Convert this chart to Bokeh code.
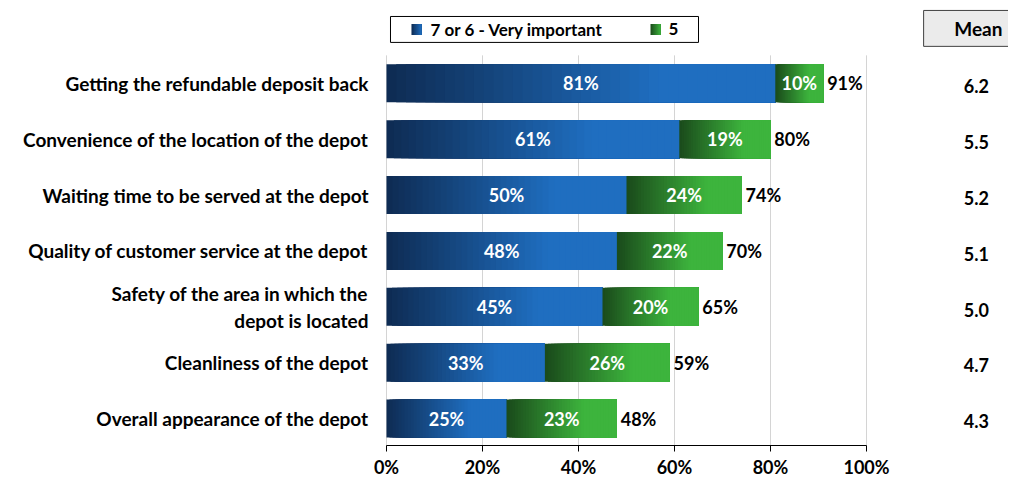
from bokeh.plotting import figure
from bokeh.models import Range1d, LinearAxis, FixedTicker, PrintfTickFormatter, ColumnDataSource
from bokeh.core.properties import value
from bokeh.embed import file_html
from bokeh.resources import INLINE

# ---- data ----
categories = [
    "Getting the refundable deposit back",
    "Convenience of the location of the depot",
    "Waiting time to be served at the depot",
    "Quality of customer service at the depot",
    "Safety of the area in which the\ndepot is located",
    "Cleanliness of the depot",
    "Overall appearance of the depot",
]
very_important = [81, 61, 50, 48, 45, 33, 25]   # 7 or 6 - Very important
score_five = [10, 19, 24, 22, 20, 26, 23]       # 5
totals = [91, 80, 74, 70, 65, 59, 48]
means = [6.2, 5.5, 5.2, 5.1, 5.0, 4.7, 4.3]
series_names = ["7 or 6 - Very important", "5"]
x_ticks = [0, 20, 40, 60, 80, 100]

FONT = value("Lato")
BLUE_L, BLUE_R = (14, 43, 82), (31, 110, 192)
GREEN_L, GREEN_R = (26, 74, 27), (61, 180, 61)


def mix(c0, c1, t):
    t = min(max(t, 0.0), 1.0)
    return "#%02x%02x%02x" % tuple(int(round(a + (b - a) * t)) for a, b in zip(c0, c1))


def gradient_slices(left, right, y, h, c0, c1, n=40, reach=0.7):
    # nested slices: each one runs to the segment end, so no seams show
    xs0, xs1, ys, hs, cols = [], [], [], [], []
    w = (right - left) / n
    for k in range(n):
        xs0.append(left + k * w)
        xs1.append(right)
        ys.append(y)
        hs.append(h)
        cols.append(mix(c0, c1, (k + 0.5) / n / reach))
    return xs0, xs1, ys, hs, cols


p = figure(width=1008, height=480,
           x_range=Range1d(-80.417, 129.583), y_range=Range1d(6.482, -1.482),
           x_axis_type=None, y_axis_type=None,
           output_backend="svg", toolbar_location=None,
           min_border_left=0, min_border_right=0, min_border_top=0, min_border_bottom=34)
p.outline_line_color = None
p.grid.visible = False
p.background_fill_color = "white"

n = len(categories)
rows = list(range(n))
BAR_H = 0.679

# grid lines
p.segment(x0=x_ticks, x1=x_ticks, y0=[-0.5] * len(x_ticks), y1=[6.6] * len(x_ticks),
          line_color="#d4d4d4", line_width=1)

# gradient bars
data = dict(left=[], right=[], y=[], h=[], color=[])
for i in rows:
    for (l, r, c0, c1) in [(0, very_important[i], BLUE_L, BLUE_R),
                           (very_important[i], very_important[i] + score_five[i], GREEN_L, GREEN_R)]:
        a, b, yy, hh, cc = gradient_slices(l, r, i, BAR_H, c0, c1)
        data["left"] += a
        data["right"] += b
        data["y"] += yy
        data["h"] += hh
        data["color"] += cc
src = ColumnDataSource(data)
p.hbar(y="y", left="left", right="right", height="h", fill_color="color",
       line_color=None, source=src)

# in-bar labels
p.text(x=[v / 2 for v in very_important], y=rows, text=[f"{v}%" for v in very_important],
       text_color="white", text_font=FONT, text_font_style="bold", text_font_size="18px",
       text_align="center", text_baseline="middle")
p.text(x=[a + b / 2 for a, b in zip(very_important, score_five)], y=rows,
       text=[f"{v}%" for v in score_five],
       text_color="white", text_font=FONT, text_font_style="bold", text_font_size="18px",
       text_align="center", text_baseline="middle")
p.text(x=[t + 0.8 for t in totals], y=rows, text=[f"{t}%" for t in totals],
       text_color="black", text_font=FONT, text_font_style="bold", text_font_size="18px",
       text_align="left", text_baseline="middle")

# category labels
p.text(x=[-3.75] * n, y=rows, text=categories, text_color="black", text_font=FONT,
       text_font_style="bold", text_font_size="19px", text_align="right",
       text_baseline="middle", text_line_height=1.15)

# mean column
p.quad(left=[111.9], right=[140], top=[-1.304], bottom=[-0.661],
       fill_color="#ebebeb", line_color="#404040", line_width=1)
p.text(x=[123.3], y=[-0.982], text=["Mean"], text_color="black", text_font=FONT,
       text_font_style="bold", text_font_size="19px", text_align="center",
       text_baseline="middle")
p.text(x=[122.9] * n, y=[r + 0.05 for r in rows], text=[f"{m:.1f}" for m in means],
       text_color="black", text_font=FONT, text_font_style="bold", text_font_size="18px",
       text_align="center", text_baseline="middle")

# legend (drawn)
p.quad(left=[0.83], right=[65], top=[-1.196], bottom=[-0.732],
       fill_color="white", line_color="black", line_width=1)
for (x0, x1, c0, c1) in [(5.2, 7.3, BLUE_L, BLUE_R), (55.0, 57.1, GREEN_L, GREEN_R)]:
    a, b, yy, hh, cc = gradient_slices(x0, x1, -0.964, 0.196, c0, c1, n=8, reach=1.0)
    p.hbar(y=yy, left=a, right=b, height=hh, fill_color=cc, line_color=None)
p.text(x=[9.17, 58.75], y=[-0.964, -0.964], text=series_names, text_color="black",
       text_font=FONT, text_font_style="bold", text_font_size="17px",
       text_align="left", text_baseline="middle")

# x axis
ax = LinearAxis(ticker=FixedTicker(ticks=x_ticks), formatter=PrintfTickFormatter(format="%d%%"))
ax.bounds = (0, 100)
ax.axis_line_color = "black"
ax.major_tick_line_color = "black"
ax.major_tick_in = 0
ax.major_tick_out = 6
ax.minor_tick_line_color = None
ax.major_label_standoff = 4
ax.major_label_text_font = "Lato"
ax.major_label_text_font_style = "bold"
ax.major_label_text_font_size = "18px"
ax.major_label_text_color = "black"
p.add_layout(ax, "below")

open("out.html", "w").write(file_html(p, INLINE))
